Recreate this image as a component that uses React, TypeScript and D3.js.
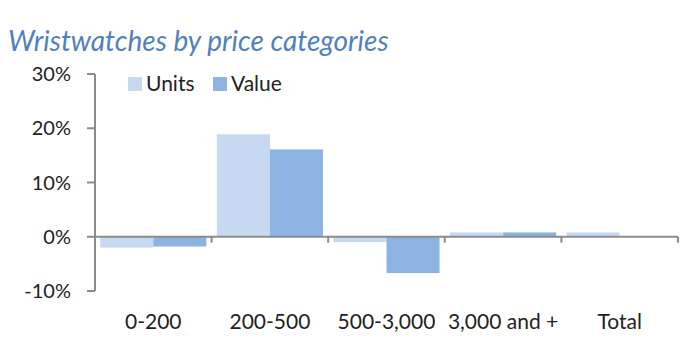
import React from "react";
import * as d3 from "d3";

const categories = ["0-200", "200-500", "500-3,000", "3,000 and +", "Total"];
const seriesNames = ["Units", "Value"];
const unitsValues = [-2.0, 18.9, -1.0, 0.8, 0.8];
const valueValues = [-1.8, 16.1, -6.7, 0.8, 0.0];
const yTicks = [-10, 0, 10, 20, 30];
const colors = ["#c6d9f1", "#8db3e2"];

const W = 690;
const H = 360;
const left = 95;
const right = 678;
const top = 74;
const bottom = 291;
const font = "Lato, 'Open Sans', sans-serif";

export default function App() {
  const x = d3.scaleBand<string>().domain(categories).range([left, right]).paddingInner(0.09).paddingOuter(0.045);
  const xOuter = d3.scaleBand<string>().domain(categories).range([left, right]);
  const inner = d3.scaleBand<string>().domain(seriesNames).range([0, x.bandwidth()]);
  const y = d3.scaleLinear().domain([-10, 30]).range([bottom, top]);
  const series = [unitsValues, valueValues];
  const y0 = y(0);

  return (
    <svg width={W} height={H} style={{ position: "absolute", left: 0, top: 0, background: "#fff" }}>
      <text x={8} y={51} fontFamily={font} fontStyle="italic" fontSize={28} fill="#4f81bd">
        Wristwatches by price categories
      </text>
      {categories.map((c, i) =>
        series.map((vals, s) => {
          const v = vals[i];
          const yy = y(Math.max(v, 0));
          const h = Math.abs(y(v) - y0);
          return (
            <rect
              key={c + s}
              x={(x(c) as number) + (inner(seriesNames[s]) as number)}
              y={yy}
              width={inner.bandwidth()}
              height={h}
              fill={colors[s]}
            />
          );
        })
      )}
      <line x1={left} x2={left} y1={top} y2={bottom} stroke="#8c8c8c" strokeWidth={2} />
      {yTicks.map((t) => (
        <g key={t}>
          <line x1={left - 8} x2={left} y1={y(t)} y2={y(t)} stroke="#8c8c8c" strokeWidth={2} />
          <text x={71} y={y(t)} dy="0.35em" textAnchor="end" fontFamily={font} fontSize={20} fill="#222">
            {t + "%"}
          </text>
        </g>
      ))}
      <line x1={left} x2={right} y1={y0} y2={y0} stroke="#8c8c8c" strokeWidth={2} />
      {categories.map((c) => (
        <line key={"t" + c} x1={(xOuter(c) as number) + xOuter.bandwidth()} x2={(xOuter(c) as number) + xOuter.bandwidth()} y1={y0} y2={y0 + 6} stroke="#8c8c8c" strokeWidth={2} />
      ))}
      {categories.map((c) => (
        <text key={"l" + c} x={(xOuter(c) as number) + xOuter.bandwidth() / 2} y={329} textAnchor="middle" fontFamily={font} fontSize={21} fill="#222">
          {c}
        </text>
      ))}
      {seriesNames.map((s, i) => {
        const lx = [128, 213][i];
        return (
          <g key={s}>
            <rect x={lx} y={77} width={14} height={14} fill={colors[i]} />
            <text x={lx + 18} y={91} fontFamily={font} fontSize={21} fill="#222">
              {s}
            </text>
          </g>
        );
      })}
    </svg>
  );
}
